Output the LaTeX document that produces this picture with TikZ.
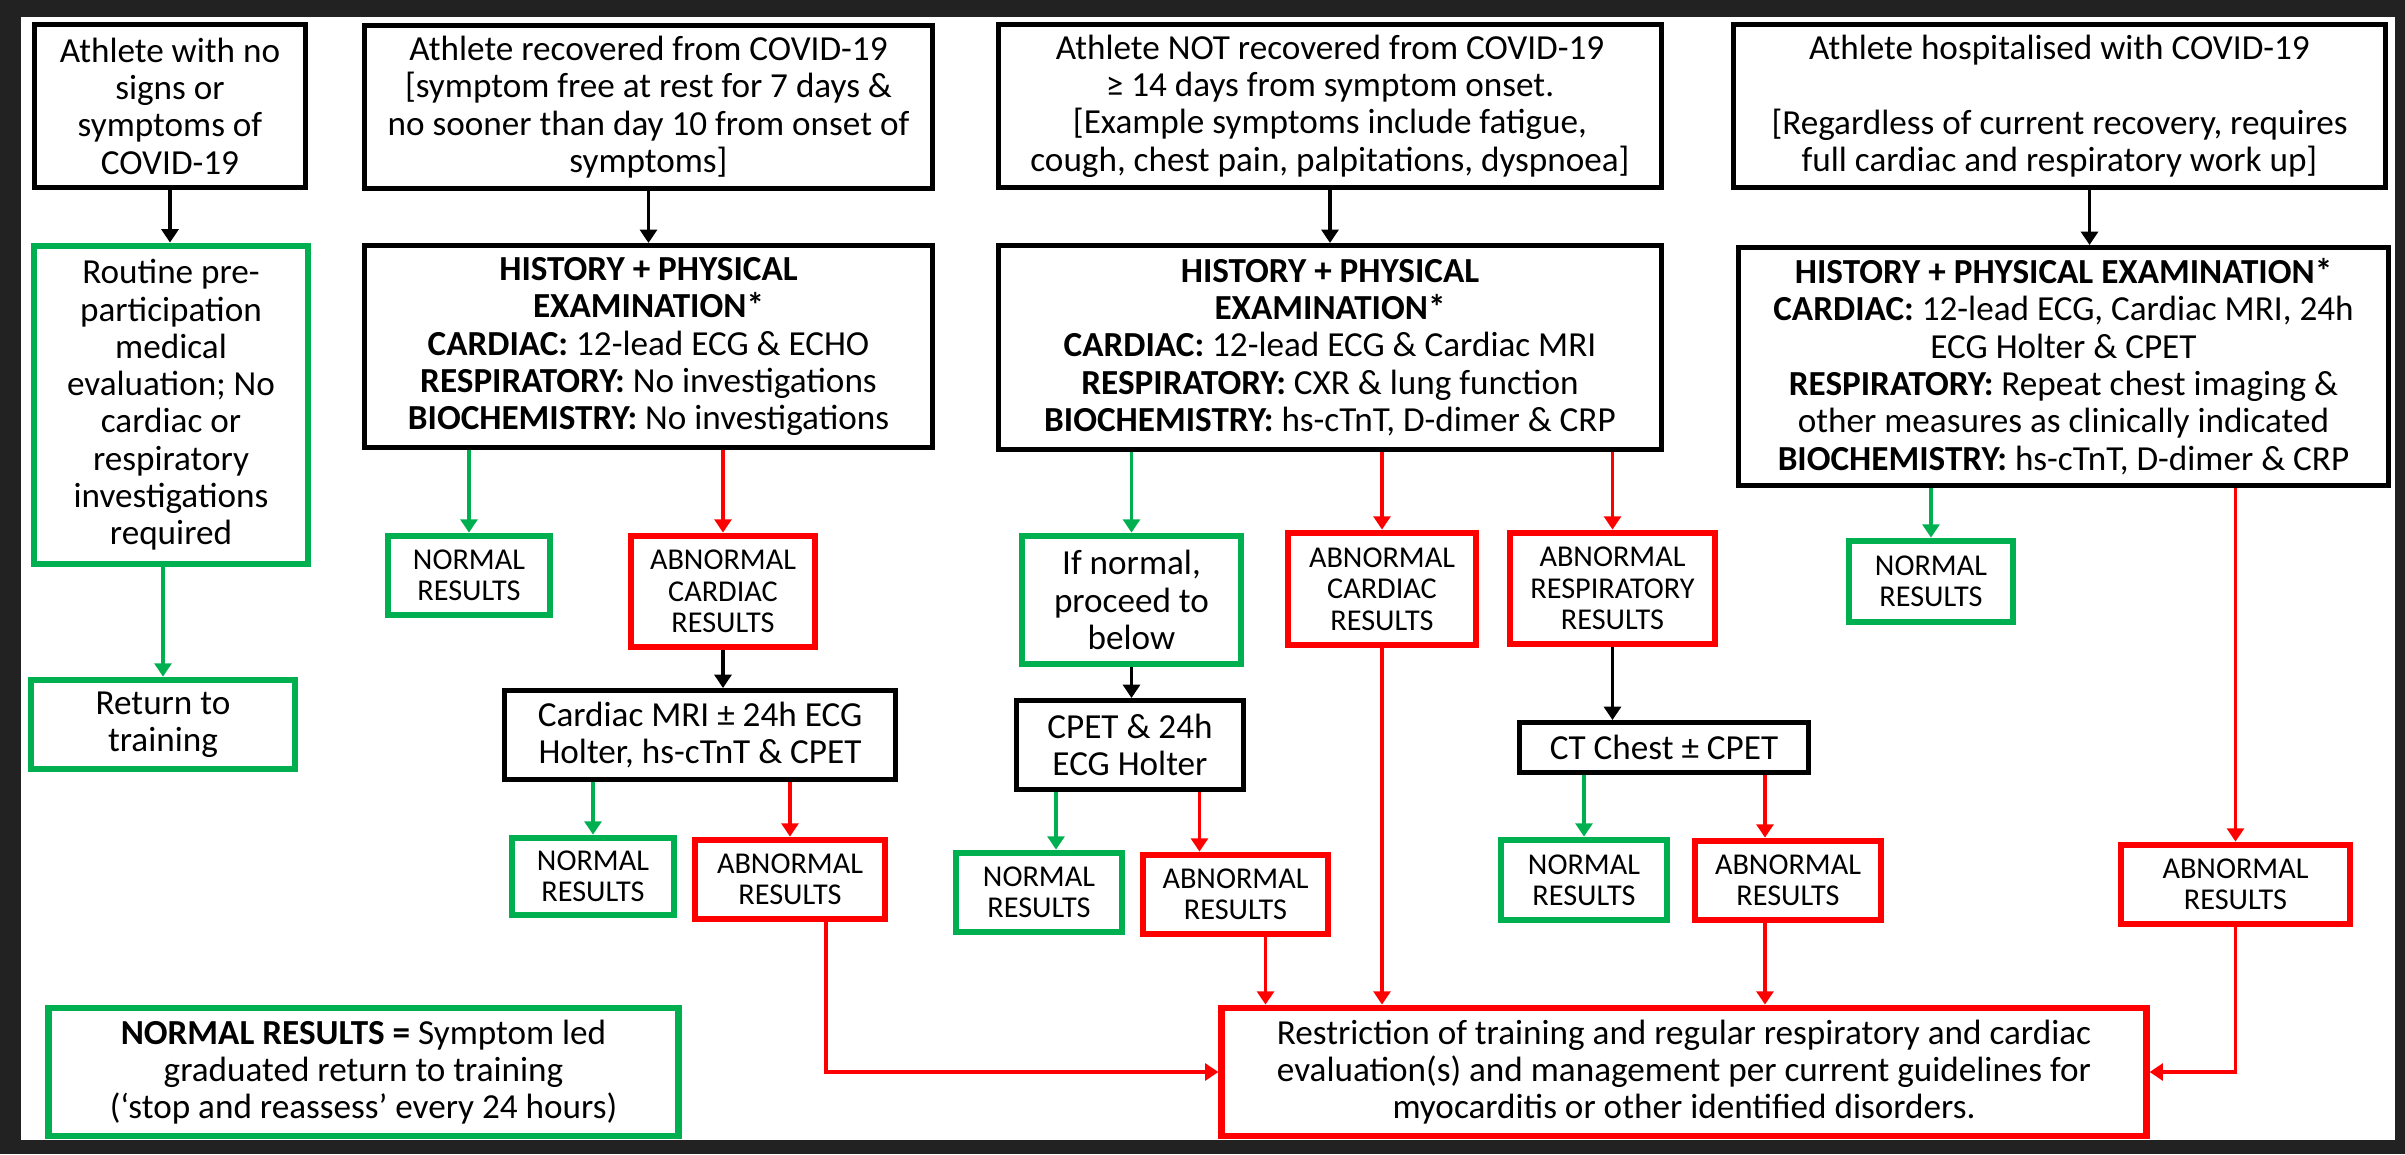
\documentclass[tikz,border=0pt]{standalone}
\usepackage{fontspec}
\setmainfont{Carlito}
\usetikzlibrary{arrows.meta}
\definecolor{okgreen}{RGB}{0,176,80}
\definecolor{alertred}{RGB}{255,0,0}
\definecolor{framegray}{RGB}{34,34,34}

\begin{document}
\begin{tikzpicture}[x=0.01cm,y=-0.01cm,
    blackbox/.style={draw=black,line width=1.4pt,fill=white,align=center,inner sep=0pt,font=\fontsize{10}{10.6}\selectfont},
    greenbox/.style={blackbox,draw=okgreen,line width=1.9pt},
    redbox/.style={blackbox,draw=alertred,line width=1.9pt},
    result/.style={font=\fontsize{8.6}{8.9}\selectfont},
    blackarrow/.style={line width=1.1pt,-{Triangle[width=4.8pt,length=3.8pt]}},
    greenarrow/.style={blackarrow,okgreen},
    redarrow/.style={blackarrow,alertred}]
    \useasboundingbox(0,0)rectangle(2405,1154);
    \fill[framegray](0,0)rectangle(2405,1154);
    \fill[white](21,17)rectangle(2395,1140);

    \node[blackbox,minimum width=2.70cm,minimum height=1.63cm](noSigns) at (170,106){Athlete with no\\signs or\\symptoms of\\COVID-19};
    \node[blackbox,minimum width=5.68cm,minimum height=1.63cm](recovered) at (648.5,107){Athlete recovered from COVID-19\\{[}symptom free at rest for 7 days \&\\no sooner than day 10 from onset of\\symptoms{]}};
    \node[blackbox,minimum width=6.63cm,minimum height=1.63cm](notRecovered) at (1330,106){Athlete NOT recovered from COVID-19\\≥ 14 days from symptom onset.\\{[}Example symptoms include fatigue,\\cough, chest pain, palpitations, dyspnoea{]}};
    \node[blackbox,minimum width=6.52cm,minimum height=1.63cm](hospital) at (2059.5,106){Athlete hospitalised with COVID-19\\~\\{[}Regardless of current recovery, requires\\full cardiac and respiratory work up{]}};

    \node[greenbox,minimum width=2.74cm,minimum height=3.18cm](routine) at (171,405){Routine pre-\\participation\\medical\\evaluation; No\\cardiac or\\respiratory\\investigations\\required};
    \node[greenbox,minimum width=2.64cm,minimum height=0.89cm](returnTrain) at (163,724.5){Return to\\training};

    \node[blackbox,minimum width=5.68cm,minimum height=2.02cm](histA) at (648.5,346.5){\textbf{HISTORY + PHYSICAL}\\\textbf{EXAMINATION*}\\\textbf{CARDIAC:} 12-lead ECG \& ECHO\\\textbf{RESPIRATORY:} No investigations\\\textbf{BIOCHEMISTRY:} No investigations};
    \node[blackbox,minimum width=6.63cm,minimum height=2.04cm](histB) at (1330,347.5){\textbf{HISTORY + PHYSICAL}\\\textbf{EXAMINATION*}\\\textbf{CARDIAC:} 12-lead ECG \& Cardiac MRI\\\textbf{RESPIRATORY:} CXR \& lung function\\\textbf{BIOCHEMISTRY:} hs-cTnT, D-dimer \& CRP};
    \node[blackbox,minimum width=6.50cm,minimum height=2.38cm](histC) at (2063.5,366.5){\textbf{HISTORY + PHYSICAL EXAMINATION*}\\\textbf{CARDIAC:} 12-lead ECG, Cardiac MRI, 24h\\ECG Holter \& CPET\\\textbf{RESPIRATORY:} Repeat chest imaging \&\\other measures as clinically indicated\\\textbf{BIOCHEMISTRY:} hs-cTnT, D-dimer \& CRP};

    \node[greenbox,result,minimum width=1.62cm,minimum height=0.79cm](normA) at (469,575.5){NORMAL\\RESULTS};
    \node[redbox,result,minimum width=1.84cm,minimum height=1.11cm](abnCardA) at (723,591.5){ABNORMAL\\CARDIAC\\RESULTS};
    \node[blackbox,minimum width=3.91cm,minimum height=0.89cm](mriA) at (700,735){Cardiac MRI ± 24h ECG\\Holter, hs-cTnT \& CPET};
    \node[greenbox,result,minimum width=1.62cm,minimum height=0.77cm](normA2) at (593,876.5){NORMAL\\RESULTS};
    \node[redbox,result,minimum width=1.90cm,minimum height=0.79cm](abnA2) at (790,879.5){ABNORMAL\\RESULTS};

    \node[greenbox,minimum width=2.19cm,minimum height=1.28cm](ifNormal) at (1131.5,600){If normal,\\proceed to\\below};
    \node[redbox,result,minimum width=1.88cm,minimum height=1.12cm](abnCardB) at (1382,589){ABNORMAL\\CARDIAC\\RESULTS};
    \node[redbox,result,minimum width=2.05cm,minimum height=1.11cm](abnResp) at (1612.5,588.5){ABNORMAL\\RESPIRATORY\\RESULTS};
    \node[blackbox,minimum width=2.27cm,minimum height=0.89cm](cpet) at (1130,745){CPET \& 24h\\ECG Holter};
    \node[greenbox,result,minimum width=1.66cm,minimum height=0.79cm](normB2) at (1039,892.5){NORMAL\\RESULTS};
    \node[redbox,result,minimum width=1.85cm,minimum height=0.79cm](abnB2) at (1235.5,894.5){ABNORMAL\\RESULTS};
    \node[blackbox,minimum width=2.89cm,minimum height=0.50cm](ctChest) at (1664,747.5){CT Chest ± CPET};
    \node[greenbox,result,minimum width=1.66cm,minimum height=0.80cm](normC2) at (1584,880){NORMAL\\RESULTS};
    \node[redbox,result,minimum width=1.86cm,minimum height=0.79cm](abnC2) at (1788,880.5){ABNORMAL\\RESULTS};

    \node[greenbox,result,minimum width=1.64cm,minimum height=0.81cm](normD) at (1931,581.5){NORMAL\\RESULTS};
    \node[redbox,result,minimum width=2.29cm,minimum height=0.79cm](abnD) at (2235.5,884.5){ABNORMAL\\RESULTS};

    \node[greenbox,minimum width=6.29cm,minimum height=1.28cm](legend) at (363.5,1072){\textbf{NORMAL RESULTS =} Symptom led\\graduated return to training\\(‘stop and reassess’ every 24 hours)};
    \node[redbox,minimum width=9.24cm,minimum height=1.28cm](restrict) at (1684,1072){Restriction of training and regular respiratory and cardiac\\evaluation(s) and management per current guidelines for\\myocarditis or other identified disorders.};

    \coordinate(hospitalOut) at ([xshift=0.3cm]hospital.south);
    \coordinate(normB2In) at ([xshift=0.17cm]normB2.north);
    \coordinate(abnB2In) at ([xshift=-0.36cm]abnB2.north);
    \coordinate(abnB2Out) at ([xshift=0.3cm]abnB2.south);
    \coordinate(abnA2Out) at ([xshift=0.36cm]abnA2.south);
    \coordinate(abnC2In) at ([xshift=-0.23cm]abnC2.north);
    \coordinate(abnC2Out) at ([xshift=-0.23cm]abnC2.south);

    \draw[blackarrow](noSigns.south)--(noSigns.south|-routine.north);
    \draw[greenarrow](returnTrain.north|-routine.south)--(returnTrain.north);
    \draw[blackarrow](recovered)--(histA);
    \draw[blackarrow](notRecovered)--(histB);
    \draw[blackarrow](hospitalOut)--(hospitalOut|-histC.north);

    \draw[greenarrow](normA.north|-histA.south)--(normA.north);
    \draw[redarrow](abnCardA.north|-histA.south)--(abnCardA.north);
    \draw[blackarrow](abnCardA.south)--(abnCardA.south|-mriA.north);
    \draw[greenarrow](normA2.north|-mriA.south)--(normA2.north);
    \draw[redarrow](abnA2.north|-mriA.south)--(abnA2.north);
    \draw[redarrow](abnA2Out)|-(restrict.west);

    \draw[greenarrow](ifNormal.north|-histB.south)--(ifNormal.north);
    \draw[redarrow](abnCardB.north|-histB.south)--(abnCardB.north);
    \draw[redarrow](abnResp.north|-histB.south)--(abnResp.north);
    \draw[blackarrow](ifNormal.south)--(ifNormal.south|-cpet.north);
    \draw[greenarrow](normB2In|-cpet.south)--(normB2In);
    \draw[redarrow](abnB2In|-cpet.south)--(abnB2In);
    \draw[redarrow](abnB2Out)--(abnB2Out|-restrict.north);
    \draw[redarrow](abnCardB.south)--(abnCardB.south|-restrict.north);
    \draw[blackarrow](abnResp.south)--(abnResp.south|-ctChest.north);
    \draw[greenarrow](normC2.north|-ctChest.south)--(normC2.north);
    \draw[redarrow](abnC2In|-ctChest.south)--(abnC2In);
    \draw[redarrow](abnC2Out)--(abnC2Out|-restrict.north);

    \draw[greenarrow](normD.north|-histC.south)--(normD.north);
    \draw[redarrow](abnD.north|-histC.south)--(abnD.north);
    \draw[redarrow](abnD.south)|-(restrict.east);
\end{tikzpicture}
\end{document}
